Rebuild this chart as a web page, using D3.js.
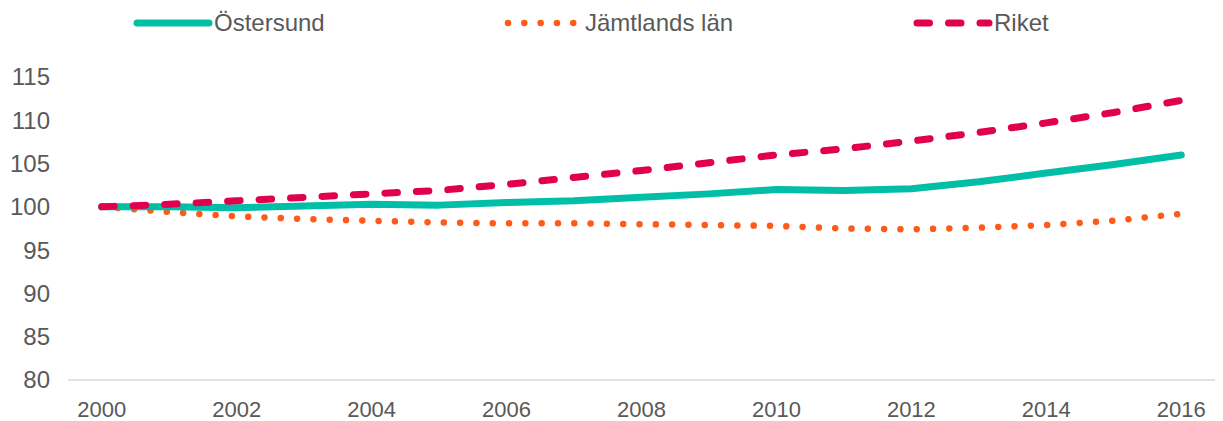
<!DOCTYPE html>
<html>
<head>
<meta charset="utf-8">
<script src="https://cdn.jsdelivr.net/npm/d3@7"></script>
<style>
  body { margin: 0; background: #fff; }
  text { font-family: "Liberation Sans", Arial, sans-serif; }
</style>
</head>
<body>
<div id="chart"></div>
<script>
// Index 2000 = 100
const years = d3.range(2000, 2017);
const ostersund = [100, 100.0, 99.9, 100.1, 100.3, 100.2, 100.5, 100.7, 101.1, 101.5, 102.0, 101.9, 102.1, 102.9, 103.9, 104.9, 106.0];
const jamtland = [100, 99.4, 98.9, 98.6, 98.4, 98.2, 98.1, 98.1, 98.0, 97.9, 97.8, 97.5, 97.4, 97.6, 97.9, 98.4, 99.2];
const riket = [100, 100.3, 100.7, 101.1, 101.5, 101.9, 102.6, 103.4, 104.2, 105.1, 106.0, 106.7, 107.6, 108.6, 109.7, 110.9, 112.3];
const yTicks = [80, 85, 90, 95, 100, 105, 110, 115];
const xTicks = [2000, 2002, 2004, 2006, 2008, 2010, 2012, 2014, 2016];

const series = [
    {name: "Östersund", values: ostersund, color: "#00bfa6", dash: null, width: 7, legendX: 137},
    {name: "Jämtlands län", values: jamtland, color: "#ff5a1a", dash: "0.01 16.3", width: 6.5, legendX: 508},
    {name: "Riket", values: riket, color: "#e0004d", dash: "12.5 19", width: 7, legendX: 917}
];

const W = 1223, H = 421;
const svg = d3.select("#chart").append("svg")
    .attr("width", W)
    .attr("height", H);

const x = d3.scaleBand().domain(years).range([68, 1215]);
const y = d3.scaleLinear().domain([80, 115]).range([380, 77]);
const xc = d => x(d) + x.bandwidth() / 2;

// y tick labels
svg.append("g")
    .selectAll("text")
    .data(yTicks)
    .enter().append("text")
    .attr("x", 50)
    .attr("y", d => y(d))
    .attr("dy", "0.35em")
    .attr("text-anchor", "end")
    .attr("font-size", 24)
    .attr("fill", "#595959")
    .text(d => d);

// x axis line
svg.append("line")
    .attr("x1", 68).attr("x2", 1215)
    .attr("y1", y(80)).attr("y2", y(80))
    .attr("stroke", "#d9d9d9")
    .attr("stroke-width", 1.3);

svg.append("g")
    .selectAll("text")
    .data(xTicks)
    .enter().append("text")
    .attr("x", d => xc(d))
    .attr("y", 409)
    .attr("dy", "0.35em")
    .attr("text-anchor", "middle")
    .attr("font-size", 22)
    .attr("fill", "#595959")
    .text(d => d);

const line = d3.line()
    .x((d, i) => xc(years[i]))
    .y(d => y(d));

// draw lines: Jämtland first, then Östersund, Riket on top
[series[1], series[0], series[2]].forEach(s => {
    svg.append("path")
        .datum(s.values)
        .attr("fill", "none")
        .attr("stroke", s.color)
        .attr("stroke-width", s.width)
        .attr("stroke-linecap", "round")
        .attr("stroke-linejoin", "round")
        .attr("stroke-dasharray", s.dash)
        .attr("d", line);
});

// legend
const legend = svg.append("g");
series.forEach(s => {
    legend.append("line")
        .attr("x1", s.legendX).attr("x2", s.legendX + 72)
        .attr("y1", 23).attr("y2", 23)
        .attr("stroke", s.color)
        .attr("stroke-width", s.width)
        .attr("stroke-linecap", "round")
        .attr("stroke-dasharray", s.dash);
    legend.append("text")
        .attr("x", s.legendX + 77)
        .attr("y", 23)
        .attr("dy", "0.35em")
        .attr("font-size", 24)
        .attr("fill", "#595959")
        .text(s.name);
});
</script>
</body>
</html>
